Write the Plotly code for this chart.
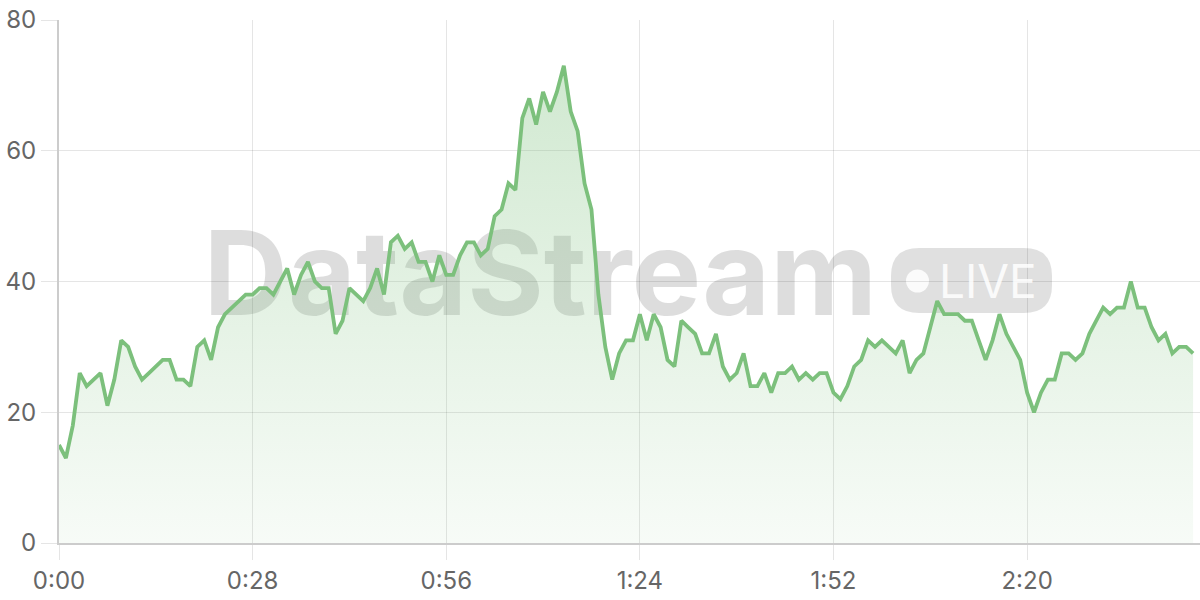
import plotly.graph_objects as go

# seconds since start
seconds = list(range(165))
values = [
    15, 13, 18, 26, 24, 25, 26, 21, 25, 31,
    30, 27, 25, 26, 27, 28, 28, 25, 25, 24,
    30, 31, 28, 33, 35, 36, 37, 38, 38, 39,
    39, 38, 40, 42, 38, 41, 43, 40, 39, 39,
    32, 34, 39, 38, 37, 39, 42, 38, 46, 47,
    45, 46, 43, 43, 40, 44, 41, 41, 44, 46,
    46, 44, 45, 50, 51, 55, 54, 65, 68, 64,
    69, 66, 69, 73, 66, 63, 55, 51, 38, 30,
    25, 29, 31, 31, 35, 31, 35, 33, 28, 27,
    34, 33, 32, 29, 29, 32, 27, 25, 26, 29,
    24, 24, 26, 23, 26, 26, 27, 25, 26, 25,
    26, 26, 23, 22, 24, 27, 28, 31, 30, 31,
    30, 29, 31, 26, 28, 29, 33, 37, 35, 35,
    35, 34, 34, 31, 28, 31, 35, 32, 30, 28,
    23, 20, 23, 25, 25, 29, 29, 28, 29, 32,
    34, 36, 35, 36, 36, 40, 36, 36, 33, 31,
    32, 29, 30, 30, 29,
]
tick_vals = [0, 28, 56, 84, 112, 140]
tick_text = ["0:00", "0:28", "0:56", "1:24", "1:52", "2:20"]
y_ticks = [0, 20, 40, 60, 80]

GREEN = "rgb(124,192,124)"
GRID = "rgba(0,0,0,0.1)"
AXIS = "rgba(0,0,0,0.2)"
FONT = "Inter"

fig = go.Figure()

# watermark (under the data)
fig.add_trace(go.Scatter(
    x=[69.6], y=[39.4], mode="text", text=["<b>DataStream</b>"],
    textfont=dict(family=FONT, size=117, color="rgba(0,0,0,0.135)"),
    hoverinfo="skip", showlegend=False, cliponaxis=False,
))

fig.add_trace(go.Scatter(
    x=seconds, y=values, mode="lines",
    line=dict(color=GREEN, width=3.8),
    fill="tozeroy",
    fillgradient=dict(
        type="vertical", start=0, stop=80,
        colorscale=[[0, "rgba(124,192,124,0.06)"], [1, "rgba(124,192,124,0.38)"]],
    ),
    hoverinfo="skip", showlegend=False,
))

fig.update_layout(
    width=1200, height=600,
    margin=dict(l=59, r=0, t=20, b=57),
    paper_bgcolor="white", plot_bgcolor="white",
    font=dict(family=FONT, size=24, color="#666"),
    xaxis=dict(
        range=[0, 165], tickmode="array", tickvals=tick_vals, ticktext=tick_text,
        showgrid=True, gridcolor=GRID, gridwidth=1,
        ticks="outside", ticklen=15, tickcolor=GRID, tickwidth=1,
        showline=True, linecolor=AXIS, linewidth=2,
        zeroline=False, fixedrange=True, automargin=False,
    ),
    yaxis=dict(
        range=[0, 80], tickmode="array", tickvals=y_ticks,
        showgrid=True, gridcolor=GRID, gridwidth=1,
        ticks="outside", ticklen=16, tickcolor=GRID, tickwidth=1,
        ticklabelstandoff=0, ticklabeloverflow="allow",
        showline=True, linecolor=AXIS, linewidth=2,
        zeroline=False, fixedrange=True, automargin=False,
    ),
)

# LIVE pill (screen-pixel geometry converted to paper coords)
W_PLOT = 1200 - 59
H_PLOT = 543 - 20
def px(xp):
    return (xp - 59) / W_PLOT
def py(yp):
    return (543 - yp) / H_PLOT

x0, x1, y0, y1, r = 891, 1052, 248, 313, 28
def P(xp, yp):
    return f"{px(xp):.5f},{py(yp):.5f}"
path = (f"M {P(x0 + r, y0)} L {P(x1 - r, y0)} "
        f"Q {P(x1, y0)} {P(x1, y0 + r)} L {P(x1, y1 - r)} "
        f"Q {P(x1, y1)} {P(x1 - r, y1)} L {P(x0 + r, y1)} "
        f"Q {P(x0, y1)} {P(x0, y1 - r)} L {P(x0, y0 + r)} "
        f"Q {P(x0, y0)} {P(x0 + r, y0)} Z")
fig.layout.shapes = [
    dict(type="path", xref="paper", yref="paper", layer="below", path=path,
         fillcolor="rgba(0,0,0,0.12)", line=dict(width=0)),
    dict(type="circle", xref="paper", yref="paper", layer="below",
         x0=px(906), x1=px(929), y0=py(292.5), y1=py(269.5),
         fillcolor="rgba(255,255,255,0.85)", line=dict(width=0)),
]
fig.add_annotation(
    xref="paper", yref="paper", x=px(988), y=py(281), text="LIVE",
    showarrow=False, xanchor="center", yanchor="middle",
    font=dict(family=FONT, size=46, color="rgba(255,255,255,0.85)"),
)

# remove the browser's default 8px body margin so the figure fills the window
fig.write_html("out.html", config={"displayModeBar": False},
               post_script="document.body.style.margin='0px';")
